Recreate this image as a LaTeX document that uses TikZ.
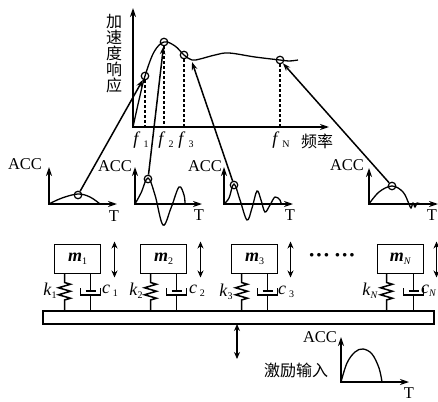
\documentclass[tikz,border=0pt]{standalone}
\usepackage{fontspec}
\usepackage{tikz}
\usetikzlibrary{arrows.meta,positioning,calc,decorations.pathmorphing}
\setmainfont{Liberation Serif}
\newfontfamily\cjk{Noto Sans CJK SC}
\newcommand{\sublab}[2]{\textit{#1}\,\raisebox{-3pt}{\fontsize{10}{10}\selectfont\textit{#2}}}
\newcommand{\springlab}[2]{\textit{#1}\raisebox{-3pt}{\fontsize{10}{10}\selectfont\textit{#2}}}
\newcommand{\masslab}[2]{\textbf{\textit{#1}}\raisebox{-3pt}{\fontsize{10}{10}\selectfont\textit{#2}}}

\begin{document}
\begin{tikzpicture}[
    x=1pt,y=-1pt,
    line width=1.5pt,
    mass/.style={rectangle,draw,minimum width=46pt,minimum height=29pt,outer sep=0pt,inner sep=0pt,font=\fontsize{18}{18}\selectfont},
    ring/.style={circle,draw,minimum size=7.5pt,inner sep=0pt,line width=1.2pt},
    lab/.style={inner sep=0pt,font=\fontsize{16.5}{16.5}\selectfont},
    big/.style={inner sep=0pt,font=\fontsize{18}{18}\selectfont},
    zh/.style={inner sep=0pt,align=center,font=\cjk\fontsize{16}{16}\selectfont},
    curve/.style={line width=1.3pt},
    arrow/.style={-{Stealth[length=8pt,width=5.5pt]},line width=1.5pt},
    axis/.style={{Stealth[length=9pt,width=6pt]}-{Stealth[length=9pt,width=6pt]},line width=1.6pt},
    updown/.style={{Stealth[length=7pt,width=6pt]}-{Stealth[length=7pt,width=6pt]},line width=1.3pt},
    guide/.style={densely dashed,line width=1.5pt},
    spring/.style={decorate,decoration={zigzag,amplitude=6pt,segment length=7pt,pre length=9pt,post length=8pt}},
    damper/.style={to path={(\tikztostart) -- ++(0,17.5) ++(-5,0) -- ++(10,0) ++(-15,-3) -- ++(0,7) -- ++(20,0) -- ++(0,-7) ++(-10,7) -- (\tikztotarget)}}
]
\useasboundingbox (0,0) rectangle (438,401);

% response spectrum
\coordinate (o0) at (133,127);
\draw[axis] (133,8) -- (o0) -- (329,127);
\node[zh] (ylab) at (114,54) {加\\速\\度\\响\\应};
\node[zh] (xlab) at (317,141) {频率};
\draw[curve] plot[smooth,tension=0.6] coordinates {(o0) (139,100) (145,76) (154,52) (164,42) (175,46) (184,55) (192,60) (200,59) (215,55) (229,53) (255,57) (280,60) (289,61) (298,60)};
\node[ring] (r1) at (145,76) {};
\node[ring] (r2) at (164,42) {};
\node[ring] (r3) at (184,55) {};
\node[ring] (rN) at (280,60) {};
\draw[guide] (r1) -- (r1 |- o0);
\draw[guide] (r2) -- (r2 |- o0);
\draw[guide] (r3) -- (r3 |- o0);
\draw[guide] (rN) -- (rN |- o0);
\node[big] (f1) at (141,140) {\sublab{f}{\textup{1}}};
\node[big] (f2) at (166,140) {\sublab{f}{\textup{2}}};
\node[big] (f3) at (186,140) {\sublab{f}{\textup{3}}};
\node[big] (fN) at (281,140) {\sublab{f}{\textup{N}}};

% four time responses
\coordinate (o1) at (49,204);
\coordinate (o2) at (135,204);
\coordinate (o3) at (224,204);
\coordinate (o4) at (369,204);
\draw[axis] ($(o1)+(0,-37)$) -- (o1) -- ($(o1)+(68,0)$);
\draw[axis] ($(o2)+(0,-37)$) -- (o2) -- ($(o2)+(67,0)$);
\draw[axis] ($(o3)+(0,-37)$) -- (o3) -- ($(o3)+(69,0)$);
\draw[axis] ($(o4)+(0,-36)$) -- (o4) -- ($(o4)+(69,0)$);
\node[lab] (acc1) at (25,164) {ACC};
\node[lab] (acc2) at (115,166) {ACC};
\node[lab] (acc3) at (205,166) {ACC};
\node[lab] (acc4) at (347,165) {ACC};
\node[lab] (t1) at (114,216) {T};
\node[lab] (t2) at (199,215) {T};
\node[lab] (t3) at (290,215) {T};
\node[lab] (t4) at (432,215) {T};
\draw[curve] plot[smooth,tension=0.6] coordinates {(o1) (62,198) (78,194) (90,197) (100,204)};
\draw[curve] plot[smooth,tension=0.6] coordinates {(o2) (141,193) (148,178) (155,195) (163,225) (171,208) (179,187) (184,195) (185,204)};
\draw[curve] plot[smooth,tension=0.6] coordinates {(o3) (229,198) (234,184) (240,200) (247,220) (252,208) (257,191) (261,200) (265,212) (270,205) (275,197) (280,200) (281,204)};
\draw[curve] plot[smooth,tension=0.6] coordinates {(o4) (379,192) (392,186) (403,192) (409,204) (411,208) (413,203) (415,207) (417,203) (420,204)};
\node[ring] (q1) at (78,195) {};
\node[ring] (q2) at (148,179) {};
\node[ring] (q3) at (234,185) {};
\node[ring] (q4) at (392,186) {};
\draw[arrow] (q1) -- (r1);
\draw[arrow] (q2) -- (r2);
\draw[arrow] (q3) -- (192,62);
\draw[arrow] (q4) -- (rN);

% oscillators on the shaking table
\node[mass] (m1) at (77.5,259) {\masslab{m}{\textup{1}}};
\node[mass,right=40pt of m1] (m2) {\masslab{m}{\textup{2}}};
\node[mass,right=45pt of m2] (m3) {\masslab{m}{\textup{3}}};
\node[mass,right=100pt of m3] (mN) {\masslab{m}{N}};
\node[rectangle,draw,minimum width=391pt,minimum height=13pt,outer sep=0pt,inner sep=0pt] (base) at (238.5,317.5) {};
\draw[spring] ($(m1.south)+(-13,0)$) coordinate (s1) -- (s1 |- base.north);
\draw[spring] ($(m2.south)+(-13,0)$) coordinate (s2) -- (s2 |- base.north);
\draw[spring] ($(m3.south)+(-13,0)$) coordinate (s3) -- (s3 |- base.north);
\draw[spring] ($(mN.south)+(-14,0)$) coordinate (sN) -- (sN |- base.north);
\draw[damper] ($(m1.south)+(13,0)$) coordinate (d1) to (d1 |- base.north);
\draw[damper] ($(m2.south)+(13,0)$) coordinate (d2) to (d2 |- base.north);
\draw[damper] ($(m3.south)+(13,0)$) coordinate (d3) to (d3 |- base.north);
\draw[damper] ($(mN.south)+(13,0)$) coordinate (dN) to (dN |- base.north);
\draw[updown] ($(m1.north east)+(14,-3)$) -- ($(m1.south east)+(14,4)$);
\draw[updown] ($(m2.north east)+(14,-3)$) -- ($(m2.south east)+(14,4)$);
\draw[updown] ($(m3.north east)+(13,-3)$) -- ($(m3.south east)+(13,4)$);
\draw[updown] ($(mN.north east)+(13,-3)$) -- ($(mN.south east)+(13,4)$);
\node[big] (k1) at (50,291) {\springlab{k}{\textup{1}}};
\node[big] (k2) at (136,291) {\springlab{k}{\textup{2}}};
\node[big] (k3) at (226,292) {\springlab{k}{\textup{3}}};
\node[big] (kN) at (370,291) {\springlab{k}{N}};
\node[big] (c1) at (110,291) {\sublab{c}{\textup{1}}};
\node[big] (c2) at (197,291) {\sublab{c}{\textup{2}}};
\node[big] (c3) at (286,292) {\sublab{c}{\textup{3}}};
\node[big,anchor=east] (cN) at (437,291) {\springlab{c}{N}};
\node[lab,font=\bfseries\fontsize{22}{22}\selectfont] (dots) at (332,258) {\textperiodcentered\textperiodcentered\textperiodcentered\,\textperiodcentered\textperiodcentered\textperiodcentered};

% base excitation
\coordinate (in) at (237,324);
\draw[updown] (in) -- (237,359);
\coordinate (o5) at (341,382);
\draw[axis] ($(o5)+(0,-45)$) -- (o5) -- ($(o5)+(68,0)$);
\draw[curve] plot[smooth,tension=0.6] coordinates {(o5) (347,363) (355,352) (363,349) (372,354) (379,368) (382,382)};
\node[lab] (acc5) at (320,337) {ACC};
\node[lab] (t5) at (409,393) {T};
\node[zh] (input) at (296,370) {激励输入};

\end{tikzpicture}
\end{document}
